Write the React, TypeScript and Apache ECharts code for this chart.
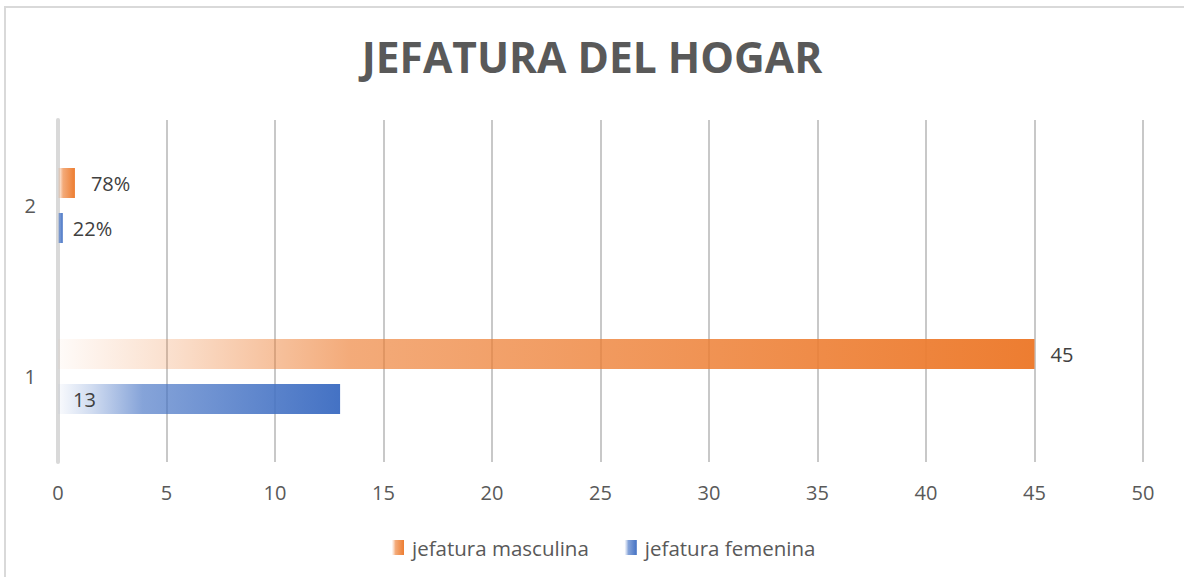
import React, { useEffect, useRef } from "react";
import * as echarts from "echarts";

const categories = ["1", "2"];
const masculina = [45, 0.78];
const femenina = [13, 0.22];
const masculinaLabels = ["45", "78%"];
const femeninaLabels = ["13", "22%"];
const xTicks = { min: 0, max: 50, interval: 5 };

const FONT = "'Open Sans', sans-serif";

function grad(r: number, g: number, b: number) {
  return new echarts.graphic.LinearGradient(0, 0, 1, 0, [
    { offset: 0, color: `rgba(${r},${g},${b},0.03)` },
    { offset: 0.12, color: `rgba(${r},${g},${b},0.25)` },
    { offset: 0.3, color: `rgba(${r},${g},${b},0.65)` },
    { offset: 1, color: `rgba(${r},${g},${b},1)` },
  ]);
}

export default function App() {
  const ref = useRef<HTMLDivElement>(null);
  useEffect(() => {
    if (!ref.current) return;
    const chart = echarts.init(ref.current, undefined, { renderer: "svg" });
    const orange = grad(237, 125, 49);
    const blue = grad(68, 114, 196);
    const labelBase = { show: true, fontFamily: FONT, fontSize: 20, color: "#404040" };
    chart.setOption({
      animation: false,
      backgroundColor: "#ffffff",
      graphic: [
        {
          type: "rect",
          shape: { x: 5, y: 7, width: 1300, height: 700 },
          style: { fill: "none", stroke: "#D9D9D9", lineWidth: 2 },
          silent: true,
        },
      ],
      title: {
        text: "JEFATURA DEL HOGAR",
        left: "center",
        top: 30,
        textStyle: { fontFamily: FONT, fontSize: 42.5, fontWeight: "bold", color: "#595959" },
      },
      legend: {
        data: ["jefatura masculina", "jefatura femenina"],
        left: 387,
        top: 532,
        itemWidth: 12,
        itemHeight: 15,
        itemGap: 36,
        icon: "rect",
        textStyle: { fontFamily: FONT, fontSize: 20.5, color: "#595959", padding: [0, 0, 0, 3] },
      },
      grid: { left: 58, right: 41, top: 120, bottom: 115, containLabel: false },
      xAxis: {
        type: "value",
        min: xTicks.min,
        max: xTicks.max,
        interval: xTicks.interval,
        axisLine: { show: false },
        axisTick: { show: false },
        splitLine: { show: true, lineStyle: { color: "#C8C8C8", width: 2 } },
        axisLabel: { fontFamily: FONT, fontSize: 20, color: "#595959", margin: 20 },
      },
      yAxis: {
        type: "category",
        data: categories,
        axisLine: { show: true, lineStyle: { color: "#D9D9D9", width: 4 } },
        axisTick: { show: false },
        axisLabel: { fontFamily: FONT, fontSize: 20, color: "#595959", margin: 22 },
      },
      series: [
        {
          name: "jefatura masculina",
          type: "bar",
          barWidth: 30,
          barGap: "50%",
          itemStyle: { color: orange },
          data: masculina.map((v, i) => ({
            value: v,
            label: {
              ...labelBase,
              position: "right",
              distance: 16,
              formatter: () => masculinaLabels[i],
            },
          })),
        },
        {
          name: "jefatura femenina",
          type: "bar",
          barWidth: 30,
          barGap: "50%",
          itemStyle: { color: blue },
          data: femenina.map((v, i) => ({
            value: v,
            label: {
              ...labelBase,
              position: i === 0 ? "insideLeft" : "right",
              distance: i === 0 ? 15 : 10,
              formatter: () => femeninaLabels[i],
            },
          })),
        },
      ],
    });
    return () => chart.dispose();
  }, []);
  return (
    <div
      ref={ref}
      style={{ position: "absolute", left: 0, top: 0, width: 1184, height: 577 }}
    />
  );
}
